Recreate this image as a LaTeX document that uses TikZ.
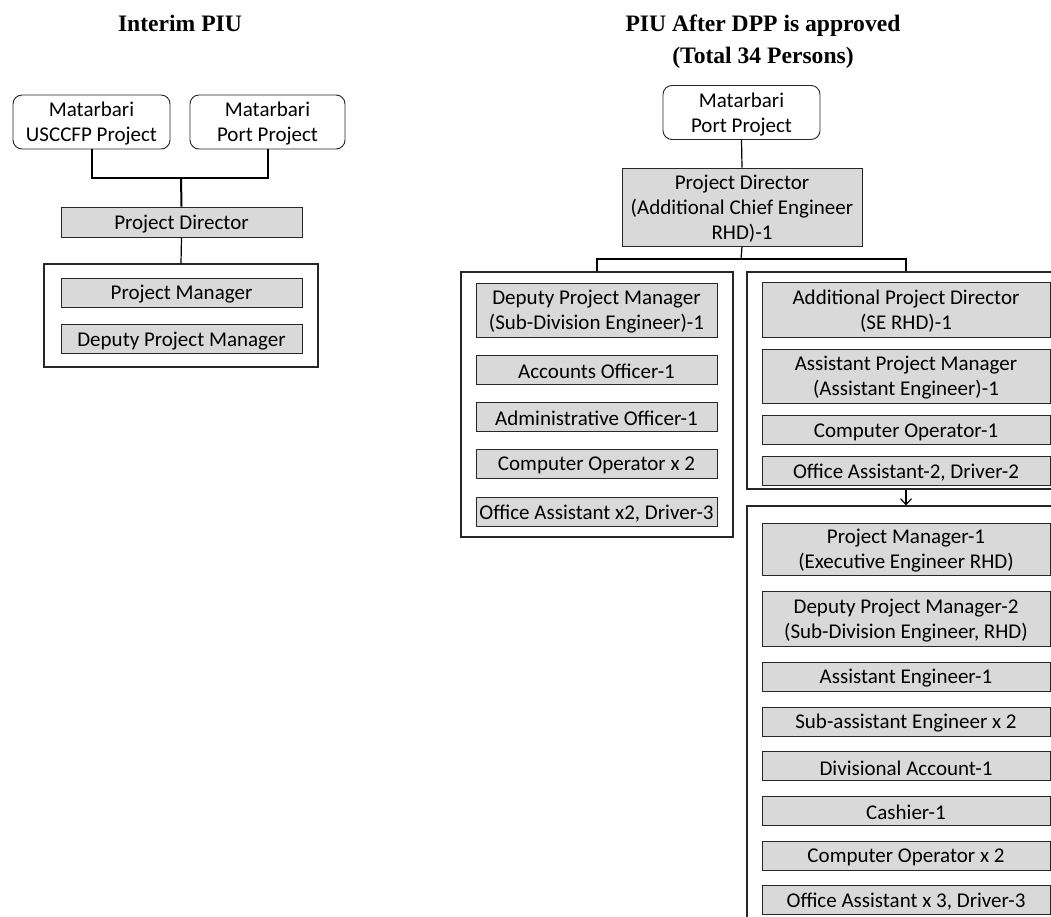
\documentclass[tikz,border=0pt]{standalone}
\usepackage{fontspec}
\setmainfont{Liberation Serif}
\newfontfamily\calfont{Carlito}
\usetikzlibrary{arrows.meta}
\definecolor{boxgray}{HTML}{D9D9D9}
\tikzset{
  base/.style={inner sep=0pt, align=center, font=\calfont\fontsize{21}{25}\selectfont},
  txt/.style={label={[base, yshift=-2pt]center:#1}},
  graybox/.style={base, draw=black!85, line width=0.9pt, fill=boxgray, minimum width=#1},
  graybox/.default=241pt,
  roundbox/.style={base, draw=black!85, line width=0.9pt, fill=white, rounded corners=9pt, minimum width=157pt, minimum height=54pt},
  container/.style={draw=black!85, line width=1.1pt, fill=white, inner sep=0pt},
  conn/.style={draw=black, line width=1.2pt},
  thickconn/.style={draw=black, line width=2pt},
  title/.style={font=\fontsize{23.6}{28}\selectfont\bfseries, inner sep=0pt, anchor=base}
}
\begin{document}
\begin{tikzpicture}[x=1pt,y=-1pt]
\useasboundingbox (0,0) rectangle (1051,917);
\clip (0,0) rectangle (1051,917);

% titles
\node[title] (t1) at (180,32) {Interim PIU};
\node[title] (t2) at (763,32) {PIU After DPP is approved};
\node[title] (t3) at (763,64) {(Total 34 Persons)};

% ---------------- left: interim PIU
\node[roundbox, txt={Matarbari\\USCCFP Project}] (us) at (91.5,122) {};
\node[roundbox, minimum width=155pt, txt={Matarbari\\Port Project}] (lp) at (267.5,122) {};
\node[graybox, minimum height=30pt, txt={Project Director}] (lpd) at (181.5,222) {};
\node[container, minimum width=274pt, minimum height=103pt] (lcont) at (181,315.5) {};
\node[graybox, minimum height=29pt, txt={Project Manager}] (lpm) at (181.5,292.5) {};
\node[graybox, minimum height=29pt, txt={Deputy Project Manager}] (ldpm) at (181.5,339) {};

\coordinate (lj) at (181,178);
\draw[thickconn] (us.south) |- (lj) -| (lp.south);
\draw[thickconn] (lj) -- (lpd.north);
\draw[conn] (lpd.south) -- (lcont.north);

% ---------------- right: PIU after DPP
\node[roundbox, txt={Matarbari\\Port Project}] (rp) at (741.5,112.5) {};
\node[graybox=240pt, minimum height=78pt, txt={Project Director\\(Additional Chief Engineer\\RHD)-1}] (rpd) at (742,207) {};
\draw[conn] (rp.south) -- (rpd.north);

\node[container, minimum width=272pt, minimum height=265pt] (lc) at (597,404.5) {};
\node[container, minimum width=318pt, minimum height=217pt] (ruc) at (906,380.5) {};
\node[container, minimum width=318pt, minimum height=424pt] (rlc) at (906,718) {};

\coordinate (rj) at (741,259);
\draw[conn] (rpd.south) -- (rj);
\draw[conn] (lc.north) |- (rj) -| (ruc.north);
\draw[conn, -{Straight Barb[length=6pt,width=11pt,line width=1.1pt]}] (ruc.south) -- (rlc.north);

% left column
\node[graybox, minimum height=54pt, txt={Deputy Project Manager\\(Sub-Division Engineer)-1}] (a1) at (596.5,310) {};
\node[graybox, minimum height=29pt, txt={Accounts Officer-1}] (a2) at (596.5,369.5) {};
\node[graybox, minimum height=29pt, txt={Administrative Officer-1}] (a3) at (596.5,416.5) {};
\node[graybox, minimum height=29pt, txt={Computer Operator x 2}] (a4) at (596.5,463.5) {};
\node[graybox, minimum height=29pt, txt={Office Assistant x2, Driver-3}] (a5) at (596.5,511.5) {};

% right upper column
\node[graybox=288pt, minimum height=55pt, txt={Additional Project Director\\(SE RHD)-1}] (b1) at (906,309.5) {};
\node[graybox=288pt, minimum height=54pt, txt={Assistant Project Manager\\(Assistant Engineer)-1}] (b2) at (906,376) {};
\node[graybox=288pt, minimum height=28.5pt, txt={Computer Operator-1}] (b3) at (906,430) {};
\node[graybox=288pt, minimum height=29pt, txt={Office Assistant-2, Driver-2}] (b4) at (906,470.5) {};

% right lower column
\node[graybox=288pt, minimum height=52pt, txt={Project Manager-1\\(Executive Engineer RHD)}] (c1) at (906,549) {};
\node[graybox=288pt, minimum height=55pt, txt={Deputy Project Manager-2\\(Sub-Division Engineer, RHD)}] (c2) at (906,618.5) {};
\node[graybox=288pt, minimum height=29pt, txt={Assistant Engineer-1}] (c3) at (906,676.5) {};
\node[graybox=288pt, minimum height=29pt, txt={Sub-assistant Engineer x 2}] (c4) at (906,721.5) {};
\node[graybox=288pt, minimum height=28.5pt, txt={Divisional Account-1}] (c5) at (906,766) {};
\node[graybox=288pt, minimum height=29pt, txt={Cashier-1}] (c6) at (906,810.5) {};
\node[graybox=288pt, minimum height=29pt, txt={Computer Operator x 2}] (c7) at (906,855.5) {};
\node[graybox=288pt, minimum height=29pt, txt={Office Assistant x 3, Driver-3}] (c8) at (906,899.5) {};
\end{tikzpicture}
\end{document}
